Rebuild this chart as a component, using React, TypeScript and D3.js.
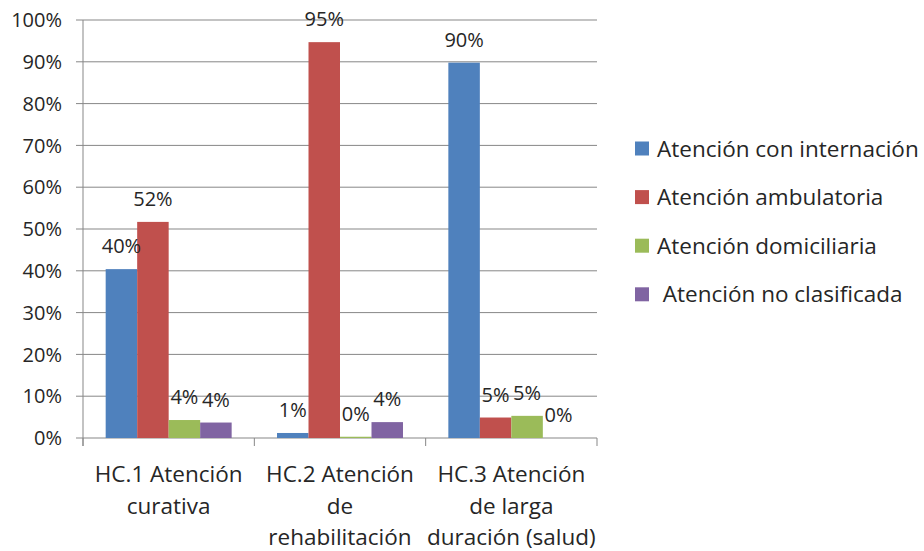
import React from "react";
import * as d3 from "d3";

const categories: string[][] = [
  ["HC.1 Atención", "curativa"],
  ["HC.2 Atención", "de", "rehabilitación"],
  ["HC.3 Atención", "de larga", "duración (salud)"],
];
const seriesNames = [
  "Atención con internación",
  "Atención ambulatoria",
  "Atención domiciliaria",
  " Atención no clasificada",
];
const internacion = [40.4, 1.2, 89.8];
const ambulatoria = [51.7, 94.7, 4.9];
const domiciliaria = [4.3, 0.3, 5.3];
const noClasificada = [3.7, 3.8, 0];
const seriesColors = ["#4F81BD", "#C0504D", "#9BBB59", "#8064A2"];
const yTicks = [0, 10, 20, 30, 40, 50, 60, 70, 80, 90, 100];

const FONT = "'Open Sans', 'Noto Sans', sans-serif";
const TEXT = "#262626";
const GRID = "#878787";

export default function App() {
  const W = 924;
  const H = 551;
  const left = 83;
  const right = 597;
  const top = 20;
  const bottom = 438;
  const series = [internacion, ambulatoria, domiciliaria, noClasificada];
  const catKeys = categories.map((_, i) => String(i));

  const x0 = d3.scaleBand<string>().domain(catKeys).range([left, right]).paddingInner(0).paddingOuter(0);
  const x1 = d3
    .scaleBand<string>()
    .domain(series.map((_, i) => String(i)))
    .range([0, x0.bandwidth()])
    .paddingInner(0)
    .paddingOuter(0.72);
  const y = d3.scaleLinear().domain([0, 100]).range([bottom, top]);

  const boundaries = [...catKeys.map((k) => x0(k) as number), right];

  return (
    <svg
      width={W}
      height={H}
      style={{ position: "absolute", left: 0, top: 0, background: "#fff" }}
      fontFamily={FONT}
    >
      <rect x={0} y={0} width={W} height={H} fill="#fff" />
      {/* gridlines */}
      {yTicks.map((t) => (
        <line key={"g" + t} x1={left - 7} x2={right} y1={y(t)} y2={y(t)} stroke={GRID} strokeWidth={1} />
      ))}
      {/* y axis line */}
      <line x1={left} x2={left} y1={top} y2={bottom + 8} stroke={GRID} strokeWidth={1} />
      {/* x ticks */}
      {boundaries.map((b, i) => (
        <line key={"xt" + i} x1={b} x2={b} y1={bottom} y2={bottom + 8} stroke={GRID} strokeWidth={1} />
      ))}
      {/* y tick labels */}
      {yTicks.map((t) => (
        <text key={"yl" + t} x={62} y={y(t)} dy="0.36em" textAnchor="end" fontSize={20} fill={TEXT}>
          {t + "%"}
        </text>
      ))}
      {/* bars */}
      {catKeys.map((k, ci) =>
        series.map((s, si) => {
          const bx = (x0(k) as number) + (x1(String(si)) as number);
          const by = y(s[ci]);
          return (
            <rect
              key={"b" + ci + "-" + si}
              x={bx}
              y={by}
              width={x1.bandwidth()}
              height={bottom - by}
              fill={seriesColors[si]}
            />
          );
        })
      )}
      {/* data labels */}
      {catKeys.map((k, ci) =>
        series.map((s, si) => {
          const cx = (x0(k) as number) + (x1(String(si)) as number) + x1.bandwidth() / 2;
          return (
            <text
              key={"l" + ci + "-" + si}
              x={cx}
              y={y(s[ci]) - 16}
              textAnchor="middle"
              fontSize={20}
              fill={TEXT}
            >
              {Math.round(s[ci]) + "%"}
            </text>
          );
        })
      )}
      {/* x labels */}
      {categories.map((lines, ci) => {
        const cx = (x0(String(ci)) as number) + x0.bandwidth() / 2;
        return (
          <text key={"xl" + ci} x={cx} y={482} textAnchor="middle" fontSize={22.5} fill={TEXT}>
            {lines.map((ln, li) => (
              <tspan key={li} x={cx} dy={li === 0 ? 0 : 31.5}>
                {ln}
              </tspan>
            ))}
          </text>
        );
      })}
      {/* legend */}
      {seriesNames.map((n, i) => {
        const cy = 148.5 + i * 48.6;
        return (
          <g key={"lg" + i}>
            <rect x={635} y={cy - 7} width={14} height={14} fill={seriesColors[i]} />
            <text x={657} y={cy} dy="0.36em" fontSize={22.5} fill={TEXT} style={{ whiteSpace: "pre" }}>
              {n}
            </text>
          </g>
        );
      })}
    </svg>
  );
}
